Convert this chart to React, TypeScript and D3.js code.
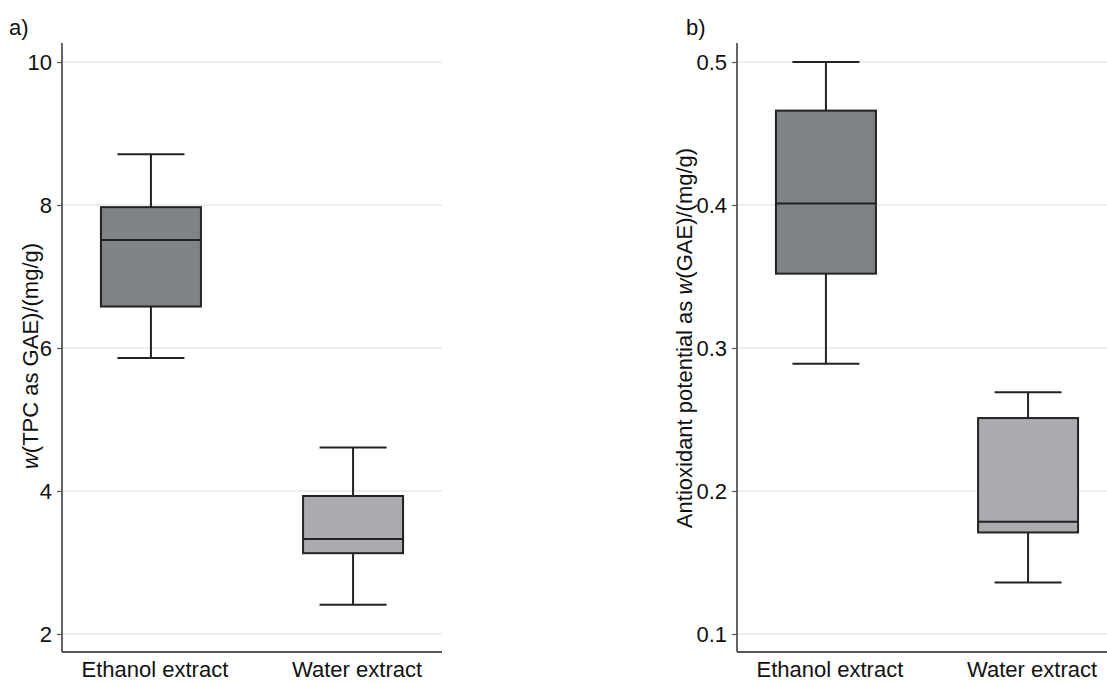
import React, { useEffect, useRef } from "react";
import * as d3 from "d3";

// categories and box-plot statistics
const categories = ["Ethanol extract", "Water extract"];

const tpcMin = [5.86, 2.41];
const tpcQ1 = [6.58, 3.13];
const tpcMedian = [7.51, 3.33];
const tpcQ3 = [7.97, 3.93];
const tpcMax = [8.71, 4.61];
const tpcTicks = [2, 4, 6, 8, 10];

const antiMin = [0.289, 0.136];
const antiQ1 = [0.352, 0.171];
const antiMedian = [0.401, 0.1785];
const antiQ3 = [0.466, 0.251];
const antiMax = [0.5, 0.269];
const antiTicks = [0.1, 0.2, 0.3, 0.4, 0.5];

const boxFills = ["#7f8385", "#a9abae"];

const FONT = "'Liberation Sans', Arial, sans-serif";

export default function App() {
  const svgRef = useRef<SVGSVGElement>(null);

  useEffect(() => {
    const svg = d3.select(svgRef.current);
    svg.selectAll("*").remove();

    const top = 43;
    const bottom = 652;
    const panelW = 380;

    const drawPanel = (opts: {
      left: number;
      domain: [number, number];
      ticks: number[];
      fmt: (d: number) => string;
      min: number[];
      q1: number[];
      med: number[];
      q3: number[];
      max: number[];
      label: string;
      titleParts: { t: string; italic?: boolean }[];
      titleX: number;
      titleY: number;
      tagX: number;
    }) => {
      const g = svg.append("g").attr("transform", `translate(${opts.left},0)`);

      const x = d3.scalePoint<string>().domain(categories).range([0, panelW]).padding(0.44);
      const y = d3.scaleLinear().domain(opts.domain).range([bottom, top]);

      // grid lines
      g.selectAll("line.grid")
        .data(opts.ticks)
        .join("line")
        .attr("class", "grid")
        .attr("x1", 0)
        .attr("x2", panelW)
        .attr("y1", d => y(d))
        .attr("y2", d => y(d))
        .attr("stroke", "#e2ebee")
        .attr("stroke-width", 1.5);

      // boxes
      categories.forEach((c, i) => {
        const cx = x(c)!;
        const bw = 100;
        const cw = 67;
        const stroke = "#222";
        g.append("line")
          .attr("x1", cx).attr("x2", cx)
          .attr("y1", y(opts.max[i])).attr("y2", y(opts.q3[i]))
          .attr("stroke", stroke).attr("stroke-width", 2);
        g.append("line")
          .attr("x1", cx).attr("x2", cx)
          .attr("y1", y(opts.q1[i])).attr("y2", y(opts.min[i]))
          .attr("stroke", stroke).attr("stroke-width", 2);
        [opts.max[i], opts.min[i]].forEach(v => {
          g.append("line")
            .attr("x1", cx - cw / 2).attr("x2", cx + cw / 2)
            .attr("y1", y(v)).attr("y2", y(v))
            .attr("stroke", stroke).attr("stroke-width", 2);
        });
        g.append("rect")
          .attr("x", cx - bw / 2)
          .attr("width", bw)
          .attr("y", y(opts.q3[i]))
          .attr("height", y(opts.q1[i]) - y(opts.q3[i]))
          .attr("fill", boxFills[i])
          .attr("stroke", stroke)
          .attr("stroke-width", 2);
        g.append("line")
          .attr("x1", cx - bw / 2).attr("x2", cx + bw / 2)
          .attr("y1", y(opts.med[i])).attr("y2", y(opts.med[i]))
          .attr("stroke", stroke).attr("stroke-width", 2);

        g.append("text")
          .attr("x", cx + 4)
          .attr("y", 677)
          .attr("text-anchor", "middle")
          .attr("font-family", FONT)
          .attr("font-size", 22)
          .attr("fill", "#111")
          .text(c);
      });

      // y axis
      const yAxis = g.append("g")
        .call(d3.axisLeft(y).tickValues(opts.ticks).tickFormat(d => opts.fmt(d as number)).tickSize(5).tickPadding(5));
      yAxis.select(".domain").remove();
      yAxis.selectAll(".tick line").attr("stroke", "#555").attr("stroke-width", 1.2);
      yAxis.selectAll(".tick text")
        .attr("font-family", FONT)
        .attr("font-size", 22)
        .attr("fill", "#111");

      // axis lines
      g.append("line")
        .attr("x1", 0).attr("x2", 0).attr("y1", top).attr("y2", bottom)
        .attr("stroke", "#555").attr("stroke-width", 1.8);
      g.append("line")
        .attr("x1", 0).attr("x2", panelW).attr("y1", bottom).attr("y2", bottom)
        .attr("stroke", "#555").attr("stroke-width", 1.8);

      // y title
      const title = svg.append("text")
        .attr("transform", `translate(${opts.titleX},${opts.titleY}) rotate(-90)`)
        .attr("text-anchor", "middle")
        .attr("font-family", FONT)
        .attr("font-size", 22)
        .attr("fill", "#111");
      opts.titleParts.forEach(p => {
        title.append("tspan").attr("font-style", p.italic ? "italic" : "normal").text(p.t);
      });

      // panel tag
      svg.append("text")
        .attr("x", opts.tagX)
        .attr("y", 35)
        .attr("font-family", FONT)
        .attr("font-size", 22)
        .attr("fill", "#111")
        .text(opts.label);
    };

    drawPanel({
      left: 62,
      domain: [1.748, 10.266],
      ticks: tpcTicks,
      fmt: d => d3.format("d")(d),
      min: tpcMin, q1: tpcQ1, med: tpcMedian, q3: tpcQ3, max: tpcMax,
      label: "a)",
      titleParts: [{ t: "w", italic: true }, { t: "(TPC as GAE)/(mg/g)" }],
      titleX: 38,
      titleY: 356,
      tagX: 9,
    });

    drawPanel({
      left: 737,
      domain: [0.0874, 0.5133],
      ticks: antiTicks,
      fmt: d => d3.format(".1f")(d),
      min: antiMin, q1: antiQ1, med: antiMedian, q3: antiQ3, max: antiMax,
      label: "b)",
      titleParts: [{ t: "Antioxidant potential as " }, { t: "w", italic: true }, { t: "(GAE)/(mg/g)" }],
      titleX: 692,
      titleY: 338,
      tagX: 686,
    });
  }, []);

  return (
    <svg
      ref={svgRef}
      width={1107}
      height={683}
      style={{ position: "absolute", left: 0, top: 0, background: "#fff" }}
    />
  );
}
